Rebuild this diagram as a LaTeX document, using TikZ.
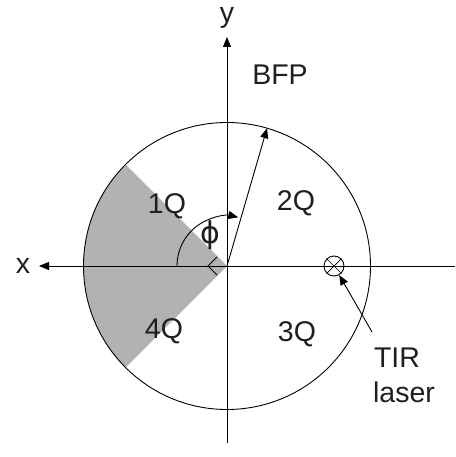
\documentclass[tikz,border=0pt]{standalone}
\usepackage{fontspec}
\setmainfont{Liberation Sans}
\newfontfamily\dvs{DejaVu Sans}
\usetikzlibrary{arrows.meta}
\begin{document}
\begin{tikzpicture}[x=1pt,y=-1pt,
  ln/.style={line width=0.9pt,black},
  arr/.style={ln,-{Triangle[length=10pt,width=8pt]}},
  lbl/.style={font=\fontsize{28.5}{28.5}\selectfont,anchor=base,inner sep=0pt,text=black!88}]
\useasboundingbox (0,0) rectangle (455,457);
\coordinate (O) at (227,266);
% gray sector
\fill[black!30] (O) -- ++(135:143.5) arc[start angle=135,end angle=225,radius=143.5] -- cycle;
% circle
\node[ln,draw,circle,minimum size=287pt,inner sep=0pt] (bfp) at (O) {};
% axes
\coordinate (xr) at (455,266);
\coordinate (xl) at (39,266);
\coordinate (yb) at (227,443);
\coordinate (yt) at (227,37);
\draw[arr] (xr) -- (xl);
\draw[arr] (yb) -- (yt);
% radius arrow
\draw[arr] (O) -- ++(-73.8:143.5) coordinate (rt);
% phi arc
\draw[arr] (177,266) arc[start angle=180,end angle=283,radius=50];
% small chevron
\draw[ln] (217,257) -- (208,266) -- (217,275);
% TIR laser mark
\node[ln,draw,circle,minimum size=20pt,inner sep=0pt] (las) at (334,266) {};
\draw[line width=0.7pt] (las.north west) -- (las.south east) (las.north east) -- (las.south west);
\coordinate (tirs) at (372,332);
\draw[arr] (tirs) -- (las.-60);
% labels
\node[lbl] (ylab) at (227,23) {y};
\node[lbl] (xlab) at (23,273) {x};
\node[lbl] (bfpl) at (280,85) {BFP};
\node[lbl] (q1) at (167,213) {1Q};
\node[lbl] (q2) at (296,210) {2Q};
\node[lbl] (q3) at (297,341) {3Q};
\node[lbl] (q4) at (164,338) {4Q};
\node[lbl,font=\dvs\fontsize{30}{30}\selectfont,anchor=center] (phi) at (210,235) {ϕ};
\node[lbl] (tir) at (397,367) {TIR};
\node[lbl] (laser) at (404,402) {laser};
\end{tikzpicture}
\end{document}
